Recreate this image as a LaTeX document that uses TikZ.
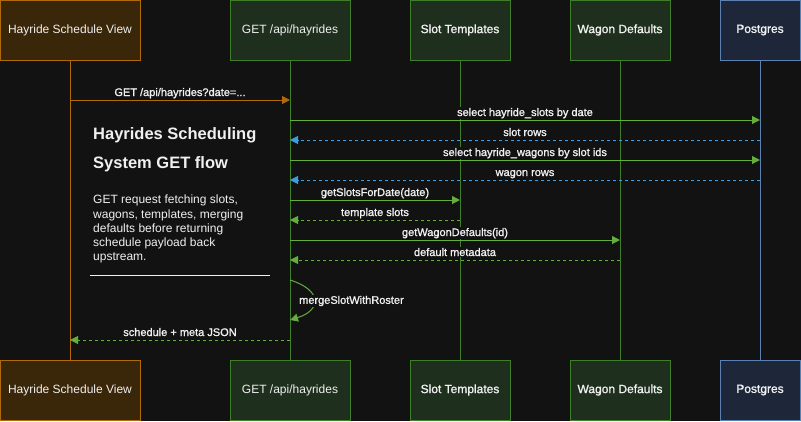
\documentclass[tikz,border=0pt]{standalone}
\usepackage{fontspec}
\setmainfont{Liberation Sans}
\newfontfamily\lblfont[AutoFakeBold=1.3]{Liberation Sans}
\usetikzlibrary{arrows.meta}
\definecolor{bg}{HTML}{121212}
\definecolor{txt}{HTML}{F0F0F0}
\definecolor{brfill}{HTML}{3A2609}
\definecolor{brstroke}{HTML}{B06A0A}
\definecolor{gnfill}{HTML}{1F2F1E}
\definecolor{gnstroke}{HTML}{3F7F2A}
\definecolor{gnmsg}{HTML}{64AE3C}
\definecolor{blmsg}{HTML}{3C9EE0}
\definecolor{pgfillc}{HTML}{1D2739}
\definecolor{pgstroke}{HTML}{5B80B2}
\begin{document}
\begin{tikzpicture}[x=1pt,y=-1pt,
  actor/.style={draw, line width=1pt, minimum width=#1, minimum height=60pt, inner sep=0pt, text=txt, font=\lblfont\fontsize{12}{14}\selectfont},
  brbox/.style={fill=brfill, draw=brstroke},
  gnbox/.style={fill=gnfill, draw=gnstroke},
  pgbox/.style={fill=pgfillc, draw=pgstroke},
  life/.style={line width=1pt},
  callg/.style={-{Triangle[length=8pt,width=8pt,fill=gnmsg]}, draw=gnmsg, line width=1pt},
  callo/.style={-{Triangle[length=8pt,width=8pt,fill=brstroke]}, draw=brstroke, line width=1pt},
  retb/.style={-{Triangle[length=8pt,width=8pt,fill=blmsg]}, draw=blmsg, line width=1pt, dash pattern=on 3pt off 3pt},
  retg/.style={-{Triangle[length=8pt,width=8pt,fill=gnmsg]}, draw=gnmsg, line width=1pt, dash pattern=on 3pt off 3pt},
  lbl/.style={fill=bg, text=txt, inner sep=1pt, font=\lblfont\bfseries\fontsize{11}{13}\selectfont},
  mlbl/.style={lbl, anchor=base, yshift=4pt},
]
\fill[bg] (0,0) rectangle (801,421);
\useasboundingbox (0,0) rectangle (801,421);

% actors top
\node[actor=140pt, brbox] (v) at (70,30) {Hayride Schedule View};
\node[actor=120pt, gnbox] (api) at (290,30) {GET /api/hayrides};
\node[actor=100pt, gnbox] (st) at (460,30) {\bfseries Slot Templates};
\node[actor=100pt, gnbox] (wd) at (620,30) {\bfseries Wagon Defaults};
\node[actor=80pt, pgbox] (pg) at (760,30) {\bfseries Postgres};
% actors bottom
\node[actor=140pt, brbox] (vb) at (70,390) {Hayride Schedule View};
\node[actor=120pt, gnbox] (apib) at (290,390) {GET /api/hayrides};
\node[actor=100pt, gnbox] (stb) at (460,390) {\bfseries Slot Templates};
\node[actor=100pt, gnbox] (wdb) at (620,390) {\bfseries Wagon Defaults};
\node[actor=80pt, pgbox] (pgb) at (760,390) {\bfseries Postgres};

% lifelines
\draw[life, brstroke] (v.south) -- (vb.north);
\draw[life, gnstroke] (api.south) -- (apib.north);
\draw[life, gnstroke] (st.south) -- (stb.north);
\draw[life, gnstroke] (wd.south) -- (wdb.north);
\draw[life, pgstroke] (pg.south) -- (pgb.north);

% message rows
\coordinate (m1) at (0,100);
\coordinate (m2) at (0,120);
\coordinate (m3) at (0,140);
\coordinate (m4) at (0,160);
\coordinate (m5) at (0,180);
\coordinate (m6) at (0,200);
\coordinate (m7) at (0,220);
\coordinate (m8) at (0,240);
\coordinate (m9) at (0,260);
\coordinate (s1) at (0,280);
\coordinate (s2) at (0,320);
\coordinate (m10) at (0,340);

\draw[callo] (v |- m1) -- node[mlbl] {GET /api/hayrides?date=...} (api |- m1);
\draw[callg] (api |- m2) -- node[mlbl] {select hayride\_slots by date} (pg |- m2);
\draw[retb] (pg |- m3) -- node[mlbl] {slot rows} (api |- m3);
\draw[callg] (api |- m4) -- node[mlbl] {select hayride\_wagons by slot ids} (pg |- m4);
\draw[retb] (pg |- m5) -- node[mlbl] {wagon rows} (api |- m5);
\draw[callg] (api |- m6) -- node[mlbl] {getSlotsForDate(date)} (st |- m6);
\draw[retg] (st |- m7) -- node[mlbl] {template slots} (api |- m7);
\draw[callg] (api |- m8) -- node[mlbl] {getWagonDefaults(id)} (wd |- m8);
\draw[retg] (wd |- m9) -- node[mlbl] {default metadata} (api |- m9);
\draw[callg] (api |- s1) .. controls (322,290) and (322,310) .. (api |- s2);
\node[lbl, anchor=west] (merge) at (298,301) {mergeSlotWithRoster};
\draw[retg] (api |- m10) -- node[mlbl] {schedule + meta JSON} (v |- m10);

% note
\node[anchor=north west, text=txt, inner sep=0pt, align=left,
      font=\fontsize{16.5}{29}\bfseries] (title) at (93,127) {Hayrides Scheduling\\System GET flow};
\node[anchor=north west, text=txt, inner sep=0pt, align=left,
      font=\fontsize{12}{14.2}\selectfont] (body) at (93,195) {GET request fetching slots,\\wagons, templates, merging\\defaults before returning\\schedule payload back\\upstream.};
\coordinate (r1) at (90,275);
\coordinate (r2) at (270,275);
\draw[txt, line width=1pt] (r1) -- (r2);
\end{tikzpicture}
\end{document}
